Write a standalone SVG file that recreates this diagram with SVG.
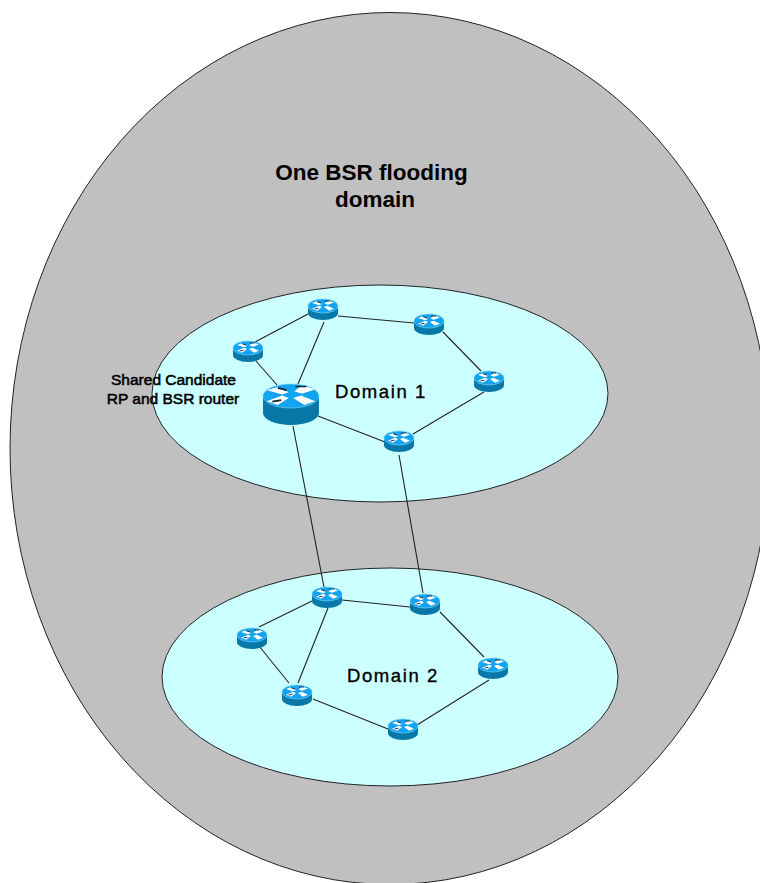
<svg xmlns="http://www.w3.org/2000/svg" width="760" height="883" viewBox="0 0 760 883">
<style>
.flood{fill:#c0c0c0;stroke:#222;stroke-width:1}
.dom{fill:#ccffff;stroke:#222;stroke-width:1}
.link{fill:none;stroke:#222;stroke-width:1.1}
.side{fill:#0878a8}
.top{fill:#12a4f0;stroke:#70d0f8;stroke-width:.7}
.arrows{fill:#fff}
.accent{fill:none;stroke:#123;stroke-width:.9}
text{font-family:"Liberation Sans",Arial,sans-serif;fill:#000;text-anchor:middle}
.title{font-size:22.500px;font-weight:bold}
.dl{font-size:18.500px;letter-spacing:1.600px;stroke:#000;stroke-width:.35}
.note{font-size:15.500px;stroke:#000;stroke-width:.55}
</style>
<defs>
<g id="glyph">
<path class="arrows" d="M-11 -3L-6 -4.800L-1 -2L-4 -.8ZM11 -3.500L5 -5.500L1.500 -2.500L5 -1.200ZM-11 2.800L-6 4.800L-1 1L-4 -.2ZM11 2.800L6 4.800L1 1L4.500 -.2Z"/>
<path class="accent" d="M-6 -4.300L-2 -3M2 -5H7M-8.500 3L-4.500 2.200"/>
</g>
<g id="router">
<path class="side" d="M-15 0V7A15 7 0 0 0 15 7V0Z"/>
<ellipse class="top" rx="15" ry="7"/>
<use href="#glyph"/>
</g>
<g id="router-big">
<path class="side" d="M-28 0V17A28 12 0 0 0 28 17V0Z"/>
<ellipse class="top" rx="28" ry="12"/>
<use href="#glyph" transform="scale(2.200 1.900)"/>
</g>
</defs>
<ellipse id="flooding-domain" class="flood" cx="390" cy="448.500" rx="380" ry="436"/>
<ellipse id="domain-1-area" class="dom" cx="380" cy="393.500" rx="228" ry="108.500"/>
<ellipse id="domain-2-area" class="dom" cx="390" cy="677" rx="228" ry="109"/>
<g id="connectors">
<path class="link" d="M308 314L255 342M324 322L298 384M256 361L277 385M338 316L414 323M443 332L481 371M484 392L413 434M318 416L385 442M293 426L324 587M399 455L423 593"/>
<path class="link" d="M312 601L259 627M342 600L410 607M440 612L484 657M489 680L417 725M388 729L313 699M289 683L259 646M298 683L328 608"/>
</g>
<g id="r1"><use href="#router" x="323" y="306"/></g>
<g id="r2"><use href="#router" x="429" y="321"/></g>
<g id="r3"><use href="#router" x="489" y="378"/></g>
<g id="r4"><use href="#router" x="399" y="438"/></g>
<g id="r5"><use href="#router" x="248" y="348"/></g>
<g id="shared-router"><use href="#router-big" x="291" y="396"/></g>
<g id="r6"><use href="#router" x="327" y="594"/></g>
<g id="r7"><use href="#router" x="425" y="601"/></g>
<g id="r8"><use href="#router" x="493" y="665"/></g>
<g id="r9"><use href="#router" x="403" y="726"/></g>
<g id="r10"><use href="#router" x="297" y="692"/></g>
<g id="r11"><use href="#router" x="252" y="635"/></g>
<g id="labels">
<text class="title" x="371.500" y="180">One BSR flooding</text>
<text class="title" x="375" y="207">domain</text>
<text class="dl" x="381" y="398">Domain 1</text>
<text class="dl" x="393" y="682">Domain 2</text>
<text class="note" x="173.500" y="385">Shared Candidate</text>
<text class="note" x="173" y="404">RP and BSR router</text>
</g>
</svg>
